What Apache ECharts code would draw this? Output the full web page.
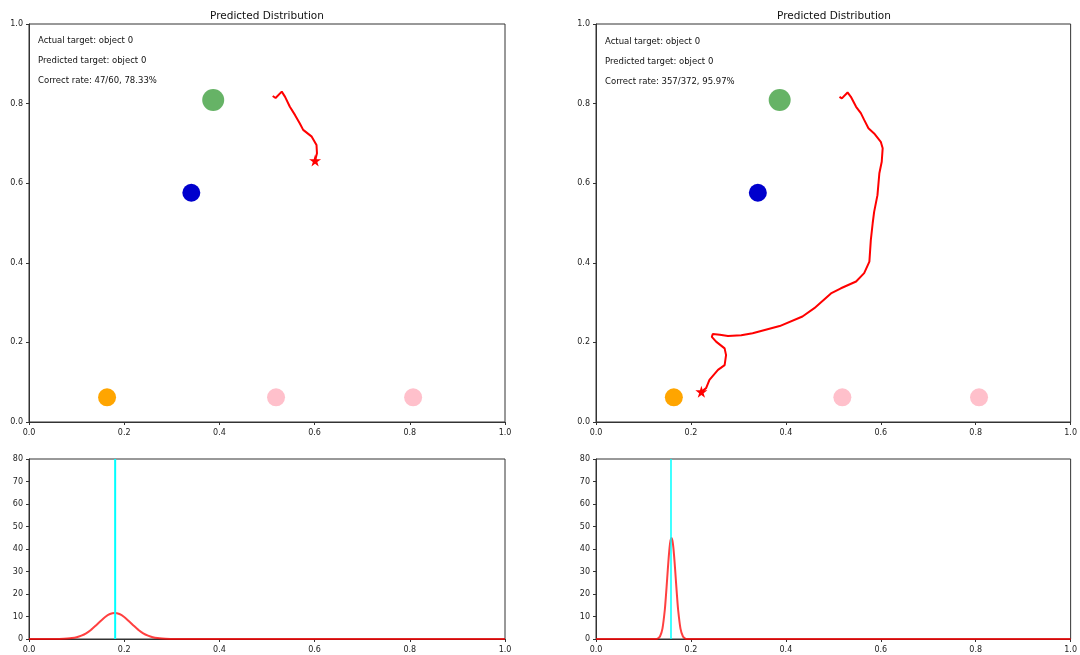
<!DOCTYPE html>
<html>
<head>
<meta charset="utf-8">
<title>Predicted Distribution</title>
<script src="https://cdn.jsdelivr.net/npm/echarts@6/dist/echarts.min.js"></script>
<style>
	html, body { margin: 0; padding: 0; background: #fff; }
	#chart { width: 1080px; height: 655px; }
</style>
</head>
<body>
<div id="chart"></div>
<script>
	// 目标点 (两个面板相同)
	const targetX = [0.387, 0.341, 0.164, 0.519, 0.807]
	const targetY = [0.809, 0.576, 0.062, 0.062, 0.062]
	const targetColor = ['rgba(0,128,0,0.6)', '#0000cd', '#ffa500', '#ffc0cb', '#ffc0cb']
	const targetSize = [22, 18, 18, 18, 18]

	// 轨迹 左
	const pathLeftX = [0.512, 0.518, 0.531, 0.538, 0.548, 0.559, 0.569, 0.576, 0.594, 0.604, 0.605, 0.601]
	const pathLeftY = [0.819, 0.814, 0.830, 0.817, 0.792, 0.771, 0.750, 0.734, 0.717, 0.696, 0.675, 0.657]
	// 轨迹 右
	const pathRightX = [0.513, 0.518, 0.530, 0.537, 0.548, 0.558, 0.565, 0.574, 0.586, 0.600, 0.604, 0.602, 0.597,
		0.593, 0.586, 0.583, 0.579, 0.576, 0.565, 0.548, 0.516, 0.495, 0.460, 0.435, 0.387, 0.330, 0.306, 0.278,
		0.261, 0.246, 0.244, 0.253, 0.271, 0.274, 0.271, 0.257, 0.239, 0.232, 0.222]
	const pathRightY = [0.817, 0.813, 0.828, 0.817, 0.792, 0.776, 0.759, 0.738, 0.725, 0.704, 0.688, 0.654, 0.625,
		0.570, 0.528, 0.500, 0.457, 0.403, 0.374, 0.353, 0.336, 0.323, 0.286, 0.265, 0.241, 0.223, 0.218, 0.216,
		0.219, 0.221, 0.214, 0.202, 0.185, 0.168, 0.143, 0.131, 0.106, 0.085, 0.076]

	// 分布 左
	const distLeftX = [0, 0.06, 0.08, 0.09, 0.10, 0.11, 0.12, 0.13, 0.14, 0.15, 0.16, 0.17, 0.18, 0.19, 0.20, 0.21,
		0.22, 0.23, 0.24, 0.25, 0.26, 0.27, 0.28, 0.30, 1.0]
	const distLeftY = [0, 0, 0.2, 0.4, 0.8, 1.5, 2.5, 4.0, 5.9, 7.9, 9.8, 11.1, 11.6, 11.1, 9.8, 7.9,
		5.9, 4.0, 2.5, 1.5, 0.8, 0.4, 0.2, 0, 0]
	// 分布 右
	const distRightX = [0, 0.125, 0.130, 0.135, 0.140, 0.145, 0.1475, 0.150, 0.1525, 0.155, 0.157, 0.159, 0.161,
		0.163, 0.1655, 0.168, 0.1705, 0.173, 0.178, 0.183, 0.188, 0.193, 1.0]
	const distRightY = [0, 0, 0.2, 1.2, 4.6, 13.0, 19.6, 27.0, 34.4, 40.6, 43.8, 44.9, 43.8,
		40.6, 34.4, 27.0, 19.6, 13.0, 4.6, 1.2, 0.2, 0, 0]

	const predLeft = 0.181
	const predRight = 0.158
	const distMax = 80

	const titleText = 'Predicted Distribution'
	const infoLeft = ['Actual target: object 0', 'Predicted target: object 0', 'Correct rate: 47/60, 78.33%']
	const infoRight = ['Actual target: object 0', 'Predicted target: object 0', 'Correct rate: 357/372, 95.97%']

	const fontFamily = 'DejaVu Sans'
	const starPath = 'path://M50,0 L61,35 L98,35 L68,57 L79,91 L50,70 L21,91 L32,57 L2,35 L39,35 Z'

	const zip = (xs, ys) => xs.map((x, i) => [x, ys[i]])

	const grids = [
		{ left: 29, top: 24, width: 476, height: 398 },
		{ left: 596, top: 24, width: 476, height: 398 },
		{ left: 29, top: 459, width: 476, height: 180 },
		{ left: 596, top: 459, width: 476, height: 180 },
	].map(g => Object.assign({ show: true, borderColor: '#333', borderWidth: 1, backgroundColor: '#fff' }, g))

	const axisCommon = {
		type: 'value',
		splitLine: { show: false },
		axisLine: { show: true, onZero: false, lineStyle: { color: '#333', width: 1 } },
		axisTick: { show: true, length: 3, lineStyle: { color: '#333' } },
		axisLabel: { color: '#222', fontSize: 8, fontFamily: fontFamily, margin: 6, showMinLabel: true, showMaxLabel: true },
	}

	const xAxis = [0, 1, 2, 3].map(i => Object.assign({}, axisCommon, {
		gridIndex: i, min: 0, max: 1, interval: 0.2,
		axisLabel: Object.assign({}, axisCommon.axisLabel, { margin: 7, formatter: v => v.toFixed(1) }),
	}))
	const yAxis = [0, 1].map(i => Object.assign({}, axisCommon, {
		gridIndex: i, min: 0, max: 1, interval: 0.2,
		axisLabel: Object.assign({}, axisCommon.axisLabel, { formatter: v => v.toFixed(1) }),
	})).concat([2, 3].map(i => Object.assign({}, axisCommon, {
		gridIndex: i, min: 0, max: distMax, interval: 10,
	})))

	const series = []
	const paths = [[pathLeftX, pathLeftY], [pathRightX, pathRightY]]
	paths.forEach((p, i) => {
		// 目标点
		series.push({
			type: 'scatter', xAxisIndex: i, yAxisIndex: i, silent: true,
			data: targetX.map((x, k) => ({
				value: [x, targetY[k]],
				symbolSize: targetSize[k],
				itemStyle: { color: targetColor[k], opacity: 1 },
			})),
		})
		// 轨迹
		series.push({
			type: 'line', xAxisIndex: i, yAxisIndex: i, silent: true,
			data: zip(p[0], p[1]), showSymbol: false, symbol: 'none',
			lineStyle: { color: '#ff0000', width: 2 },
		})
		// 终点星形
		const n = p[0].length - 1
		series.push({
			type: 'scatter', xAxisIndex: i, yAxisIndex: i, silent: true,
			data: [[p[0][n], p[1][n]]], symbol: starPath, symbolSize: 12,
			itemStyle: { color: '#ff0000', opacity: 1 },
		})
	})

	const dists = [[distLeftX, distLeftY, predLeft, 2], [distRightX, distRightY, predRight, 1.5]]
	dists.forEach((d, i) => {
		series.push({
			type: 'line', xAxisIndex: i + 2, yAxisIndex: i + 2, silent: true,
			data: zip(d[0], d[1]), showSymbol: false, symbol: 'none', smooth: 0.2,
			lineStyle: { color: 'rgba(255,0,0,0.75)', width: 2 },
		})
		series.push({
			type: 'line', xAxisIndex: i + 2, yAxisIndex: i + 2, silent: true,
			data: [[d[2], 0], [d[2], distMax]], showSymbol: false, symbol: 'none',
			lineStyle: { color: '#00ffff', width: d[3] },
		})
	})

	// 标题与文字
	const graphic = []
	const addText = (x, y, text, size, align) => {
		graphic.push({
			type: 'text', x: x, y: y, silent: true,
			style: { text: text, fill: '#111', font: size + 'px "' + fontFamily + '"', textAlign: align, textVerticalAlign: 'middle' },
		})
	}
	addText(267, 16, titleText, 10.5, 'center')
	addText(834, 16, titleText, 10.5, 'center')
	infoLeft.forEach((t, k) => addText(38, 41 + k * 20, t, 8.5, 'left'))
	infoRight.forEach((t, k) => addText(605, 42 + k * 20, t, 8.5, 'left'))

	const myChart = echarts.init(document.getElementById('chart'))
	myChart.setOption({
		backgroundColor: '#fff',
		animation: false,
		grid: grids,
		xAxis: xAxis,
		yAxis: yAxis,
		series: series,
		graphic: graphic,
	})
</script>
</body>
</html>
